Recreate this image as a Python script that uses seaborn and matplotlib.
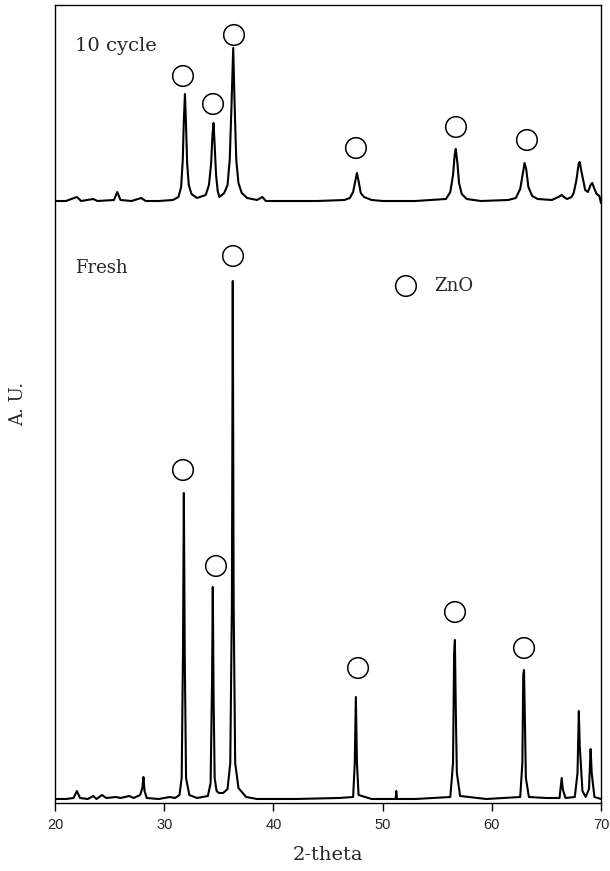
import matplotlib
matplotlib.use("Agg")
import matplotlib.pyplot as plt
import seaborn as sns
import pandas as pd

# Fresh catalyst XRD trace: 2-theta (deg) and intensity (a.u.)
fresh_2theta = [20.0, 21.0, 21.7, 22.0, 22.3, 23.0, 23.5, 23.8, 24.3, 24.7,
                25.6, 26.0, 26.8, 27.2, 27.8, 28.0, 28.1, 28.2, 28.4, 29.5,
                30.5, 31.0, 31.4, 31.6, 31.72, 31.8, 31.88, 32.0, 32.3, 33.0,
                34.0, 34.25, 34.38, 34.45, 34.52, 34.62, 34.8, 35.0, 35.4, 35.8,
                36.05, 36.2, 36.28, 36.36, 36.5, 36.8, 37.5, 38.5, 42.0, 46.0,
                47.3, 47.45, 47.55, 47.65, 47.8, 49.0, 51.2, 51.25, 51.32, 53.0,
                56.2, 56.45, 56.55, 56.62, 56.7, 56.8, 57.1, 59.5, 62.6, 62.8,
                62.88, 62.95, 63.02, 63.12, 63.4, 65.0, 66.2, 66.4, 66.5, 66.6,
                66.75, 67.6, 67.85, 67.97, 68.05, 68.15, 68.3, 68.6, 68.9, 69.05,
                69.15, 69.25, 69.4, 69.7, 70.0]
fresh_counts = [4, 4, 5, 12, 5, 4, 7, 4, 8, 5,
                6, 5, 7, 5, 8, 15, 26, 12, 5, 4,
                6, 5, 8, 25, 150, 310, 150, 25, 8, 5,
                7, 20, 120, 216, 110, 25, 12, 10, 10, 14,
                40, 200, 522, 200, 40, 15, 6, 4, 4, 5,
                6, 40, 106, 40, 8, 4, 4, 12, 4, 4,
                6, 40, 150, 163, 95, 30, 7, 4, 6, 40,
                128, 133, 90, 25, 6, 5, 5, 25, 14, 10,
                5, 6, 30, 92, 58, 40, 12, 6, 14, 54,
                30, 20, 6, 5, 4]

# After 10 cycles: 2-theta (deg) and intensity (a.u.)
cycle_2theta = [20.0, 21.0, 22.0, 22.4, 23.5, 23.9, 25.4, 25.7, 26.0, 27.0,
                27.9, 28.3, 29.5, 30.8, 31.3, 31.55, 31.7, 31.8, 31.9, 32.0,
                32.1, 32.25, 32.5, 33.0, 33.8, 34.1, 34.3, 34.42, 34.52, 34.62,
                34.75, 34.9, 35.05, 35.5, 35.8, 36.0, 36.15, 36.32, 36.45, 36.6,
                36.8, 37.1, 37.6, 38.5, 39.0, 39.3, 41.0, 44.0, 46.5, 47.0,
                47.3, 47.5, 47.65, 47.8, 48.0, 48.3, 49.0, 50.0, 53.0, 55.8,
                56.2, 56.45, 56.6, 56.7, 56.85, 57.0, 57.25, 57.7, 59.0, 61.5,
                62.2, 62.6, 62.85, 63.0, 63.15, 63.35, 63.7, 64.2, 65.5, 66.1,
                66.4, 66.6, 66.9, 67.3, 67.5, 67.75, 67.95, 68.05, 68.2, 68.35,
                68.55, 68.8, 69.05, 69.2, 69.4, 69.6, 69.85, 70.0]
cycle_counts = [4, 4, 8, 4, 6, 4, 5, 13, 5, 4,
                7, 4, 4, 5, 8, 18, 45, 85, 111, 80,
                42, 20, 11, 7, 10, 20, 42, 70, 82, 60,
                30, 14, 8, 12, 20, 45, 95, 157, 100, 45,
                22, 12, 7, 5, 8, 4, 4, 4, 5, 7,
                13, 24, 32, 24, 12, 8, 5, 4, 4, 6,
                13, 30, 50, 56, 42, 22, 11, 6, 4, 5,
                7, 16, 32, 42, 36, 18, 9, 6, 5, 8,
                10, 8, 6, 8, 12, 25, 41, 43, 34, 26,
                15, 13, 20, 22, 16, 11, 9, 2]

# ZnO reflection markers (2-theta, height of the marker)
cycle_marker_2theta = [31.72, 34.47, 36.39, 47.56, 56.72, 63.22]
cycle_marker_y = [727, 699, 768, 655, 676, 663]
fresh_marker_2theta = [31.72, 34.74, 36.30, 47.75, 56.63, 62.95]
fresh_marker_y = [333, 237, 547, 135, 191, 155]

x_ticks = [20, 30, 40, 50, 60, 70]

cycle_offset = 598

sns.set_theme(style="white")
plt.rcParams["font.family"] = ["DejaVu Serif"]

fig = plt.figure(figsize=(6.10, 8.71), dpi=100)
ax = fig.add_axes([55 / 610, 1 - 803 / 871, 546 / 610, 798 / 871])

fresh = pd.DataFrame({"two_theta": fresh_2theta, "counts": fresh_counts})
cycle = pd.DataFrame({"two_theta": cycle_2theta,
                      "counts": [c + cycle_offset for c in cycle_counts]})

sns.lineplot(data=fresh, x="two_theta", y="counts", ax=ax, color="black",
             lw=1.5, sort=False, estimator=None)
sns.lineplot(data=cycle, x="two_theta", y="counts", ax=ax, color="black",
             lw=1.5, sort=False, estimator=None)

marker_kw = dict(s=220, facecolors="none", edgecolors="black", linewidths=1.1,
                 zorder=5)
ax.scatter(cycle_marker_2theta, cycle_marker_y, **marker_kw)
ax.scatter(fresh_marker_2theta, fresh_marker_y, **marker_kw)

# legend entry
ax.scatter([52.14], [517], **marker_kw)
ax.text(54.7, 517, "ZnO", fontsize=13, va="center", ha="left")

ax.text(21.8, 757, "10 cycle", fontsize=14, va="center", ha="left")
ax.text(21.8, 535, "Fresh", fontsize=13, va="center", ha="left")

ax.set_xlim(20, 70)
ax.set_ylim(0, 798)
ax.set_xticks(x_ticks)
ax.set_xticklabels([str(t) for t in x_ticks], family="Liberation Sans",
                   fontsize=10.5)
ax.set_yticks([])
ax.tick_params(axis="x", direction="out", length=6, width=1, color="black",
               bottom=True, pad=5)
for sp in ax.spines.values():
    sp.set_color("black")
    sp.set_linewidth(1.0)

ax.set_xlabel("2-theta", fontsize=14, labelpad=10)
ax.set_ylabel("A. U.", fontsize=13, labelpad=20)

fig.savefig("out.png", dpi=100)
